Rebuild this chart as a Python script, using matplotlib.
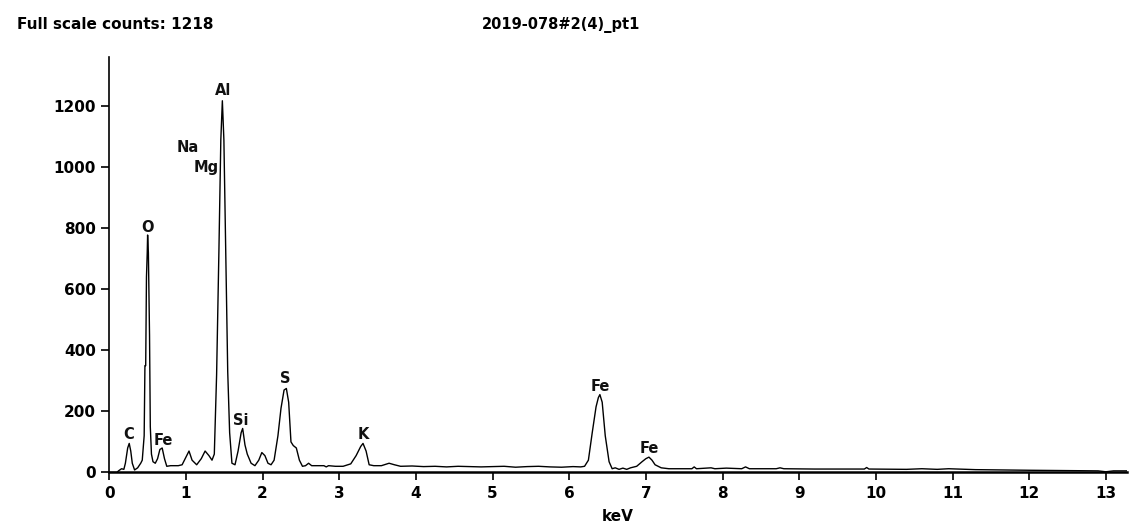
import matplotlib
matplotlib.use("Agg")
import matplotlib.pyplot as plt

# spectrum (keV, counts)
energy = [0.00, 0.10, 0.12, 0.16, 0.19, 0.21, 0.24, 0.26, 0.28, 0.30, 0.33, 0.37, 0.41,
          0.43, 0.455, 0.465, 0.475, 0.485, 0.495, 0.50, 0.51, 0.525, 0.535, 0.55, 0.57,
          0.60, 0.63, 0.66, 0.69, 0.72, 0.75, 0.80, 0.90, 0.95, 1.00, 1.04, 1.08, 1.14,
          1.20, 1.25, 1.30, 1.34, 1.37, 1.40, 1.43, 1.455, 1.475, 1.495, 1.52, 1.545,
          1.57, 1.60, 1.64, 1.68, 1.72, 1.74, 1.77, 1.80, 1.85, 1.90, 1.95, 1.99, 2.03,
          2.07, 2.11, 2.15, 2.20, 2.24, 2.28, 2.31, 2.34, 2.37, 2.40, 2.44, 2.48,
          2.52, 2.56, 2.60, 2.64, 2.80, 2.83, 2.86, 2.95, 3.05, 3.15, 3.22, 3.28,
          3.31, 3.35, 3.39, 3.45, 3.55, 3.65, 3.72, 3.80, 3.95, 4.10, 4.25, 4.40,
          4.55, 4.70, 4.85, 5.00, 5.15, 5.30, 5.45, 5.60, 5.75, 5.90, 6.05, 6.15,
          6.20, 6.25, 6.30, 6.35, 6.38, 6.40, 6.43, 6.47, 6.52, 6.56, 6.60, 6.65,
          6.70, 6.75, 6.80, 6.88, 6.95, 7.00, 7.04, 7.08, 7.12, 7.20, 7.30, 7.60,
          7.63, 7.66, 7.85, 7.90, 8.05, 8.25, 8.30, 8.35, 8.70, 8.75, 8.80, 9.20,
          9.85, 9.88, 9.91, 10.40, 10.60, 10.80, 10.95, 11.30, 11.60, 12.00, 12.50,
          12.90, 13.00, 13.10, 13.27]
counts = [0, 0, 5, 12, 10, 30, 80, 95, 70, 30, 8, 15, 30,
          40, 120, 350, 350, 640, 720, 778, 720, 450, 150, 60, 35,
          30, 45, 75, 80, 45, 20, 22, 22, 25, 50, 70, 40, 25,
          45, 70, 55, 40, 60, 320, 725, 1090, 1218, 1090, 710, 330,
          130, 30, 25, 70, 130, 144, 90, 60, 30, 22, 40, 65, 55,
          30, 25, 40, 120, 210, 270, 275, 230, 100, 88, 80, 40,
          20, 22, 30, 22, 22, 18, 22, 20, 20, 28, 55, 85,
          95, 70, 25, 22, 22, 30, 25, 20, 21, 19, 20, 18,
          20, 19, 18, 19, 20, 17, 19, 20, 18, 17, 19, 18,
          20, 40, 130, 215, 245, 255, 230, 120, 35, 12, 15, 10,
          14, 10, 15, 20, 35, 45, 50, 40, 25, 15, 12, 12,
          18, 12, 15, 12, 14, 12, 18, 12, 12, 15, 12, 11,
          11, 16, 11, 10, 12, 10, 12, 9, 8, 7, 6,
          5, 2, 5, 5]

# element labels: name, keV, counts of text baseline
label_names = ["C", "O", "Fe", "Na", "Mg", "Al", "Si", "S", "K", "Fe", "Fe"]
label_kev = [0.248, 0.50, 0.70, 1.02, 1.26, 1.487, 1.713, 2.30, 3.31, 6.40, 7.05]
label_counts = [111, 789, 90, 1051, 985, 1237, 155, 294, 108, 268, 62]

x_ticks = list(range(0, 14))
y_ticks = [0, 200, 400, 600, 800, 1000, 1200]

plt.rcParams['font.family'] = ['DejaVu Sans']
fig = plt.figure(figsize=(11.29, 5.29), dpi=100)
ax = fig.add_axes([0.0968, 0.107, 0.901, 0.785])

ax.plot(energy, counts, color="black", lw=1.0)

for name, kx, ky in zip(label_names, label_kev, label_counts):
    ax.text(kx, ky, name, ha="center", va="baseline", fontsize=10.5,
            fontweight="bold", color="#111111")

ax.set_xlim(0, 13.27)
ax.set_ylim(0, 1361)
ax.set_xticks(x_ticks)
ax.set_yticks(y_ticks)
ax.tick_params(direction="out", length=6, width=1.2, labelsize=11)
for lab in ax.get_xticklabels() + ax.get_yticklabels():
    lab.set_fontweight("bold")
ax.spines["top"].set_visible(False)
ax.spines["right"].set_visible(False)
ax.spines["left"].set_linewidth(1.2)
ax.spines["bottom"].set_linewidth(1.8)
ax.set_xlabel("keV", fontsize=11, fontweight="bold", labelpad=6)

fig.text(0.015, 0.953, "Full scale counts: 1218", fontsize=11, fontweight="bold",
         va="center", ha="left")
fig.text(0.497, 0.953, "2019-078#2(4)_pt1", fontsize=10.5, fontweight="bold",
         va="center", ha="center")

fig.savefig("out.png", dpi=100)
